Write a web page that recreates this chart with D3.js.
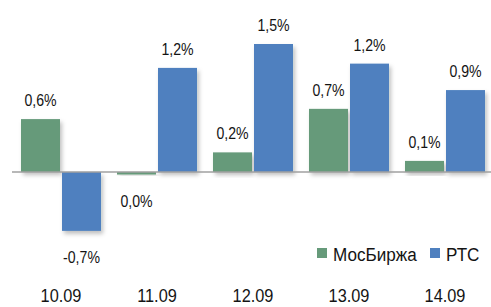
<!DOCTYPE html>
<html>
<head>
<meta charset="utf-8">
<script src="https://cdn.jsdelivr.net/npm/d3@7"></script>
<style>
  body { margin: 0; background: #fff; }
  svg text { font-family: "Liberation Sans", Arial, sans-serif; fill: #141414; }
</style>
</head>
<body>
<svg id="chart" width="491" height="307"></svg>
<script>
// Data
var dates = ["10.09", "11.09", "12.09", "13.09", "14.09"];
var seriesNames = ["МосБиржа", "РТС"];
var moexValues = [0.62, -0.03, 0.23, 0.74, 0.13];
var rtsValues = [-0.69, 1.22, 1.5, 1.27, 0.96];
var moexLabels = ["0,6%", "0,0%", "0,2%", "0,7%", "0,1%"];
var rtsLabels = ["-0,7%", "1,2%", "1,5%", "1,2%", "0,9%"];

var colors = {"МосБиржа": "#669a7a", "РТС": "#4f80bf"};

var svg = d3.select("#chart");

// drop shadow for the bars
var defs = svg.append("defs");
var f = defs.append("filter").attr("id", "shadow")
    .attr("x", "-20%").attr("y", "-20%").attr("width", "150%").attr("height", "150%");
f.append("feDropShadow").attr("dx", 2).attr("dy", 3).attr("stdDeviation", 2)
    .attr("flood-color", "#000").attr("flood-opacity", 0.25);

var x0 = d3.scaleBand().domain(dates).range([13, 493]);
var x1 = d3.scaleBand().domain(seriesNames).range([0, x0.bandwidth()])
    .paddingInner(0.049).paddingOuter(0.195);
var y = d3.scaleLinear().domain([0, 1.5]).range([172, 44]);

// build rows
var rows = [];
dates.forEach(function(d, i) {
    rows.push({date: d, series: "МосБиржа", value: moexValues[i], label: moexLabels[i]});
    rows.push({date: d, series: "РТС", value: rtsValues[i], label: rtsLabels[i]});
});

// bars
svg.append("g").selectAll("rect")
    .data(rows)
    .enter().append("rect")
    .attr("x", d => x0(d.date) + x1(d.series))
    .attr("y", d => d.value >= 0 ? y(d.value) : y(0))
    .attr("width", x1.bandwidth())
    .attr("height", d => Math.abs(y(d.value) - y(0)))
    .attr("fill", d => colors[d.series])
    .attr("filter", "url(#shadow)");

// zero line
svg.append("line")
    .attr("x1", 12).attr("x2", 491)
    .attr("y1", y(0)).attr("y2", y(0))
    .attr("stroke", "#a0a0a0")
    .attr("stroke-width", 1.5);

// value labels (narrow font look via horizontal squeeze)
svg.append("g").selectAll("text")
    .data(rows)
    .enter().append("text")
    .attr("transform", function(d) {
        var tx = x0(d.date) + x1(d.series) + x1.bandwidth() / 2;
        var ty = d.value >= 0 ? y(d.value) - 13 : y(d.value) + 32;
        return "translate(" + tx + "," + ty + ") scale(0.83,1)";
    })
    .attr("text-anchor", "middle")
    .style("font-size", "17px")
    .text(d => d.label);

// category labels
svg.append("g").selectAll("text")
    .data(dates)
    .enter().append("text")
    .attr("transform", d => "translate(" + (x0(d) + x0.bandwidth() / 2) + ",302) scale(0.86,1)")
    .attr("text-anchor", "middle")
    .style("font-size", "19px")
    .text(d => d);

// legend
var legend = svg.append("g").attr("transform", "translate(317,248)");
var lx = [0, 113];
seriesNames.forEach(function(s, i) {
    legend.append("rect")
        .attr("x", lx[i]).attr("y", 0)
        .attr("width", 10).attr("height", 10)
        .attr("fill", colors[s]);
    legend.append("text")
        .attr("transform", "translate(" + (lx[i] + 16) + ",13) scale(0.9,1)")
        .style("font-size", "19px")
        .text(s);
});
</script>
</body>
</html>
